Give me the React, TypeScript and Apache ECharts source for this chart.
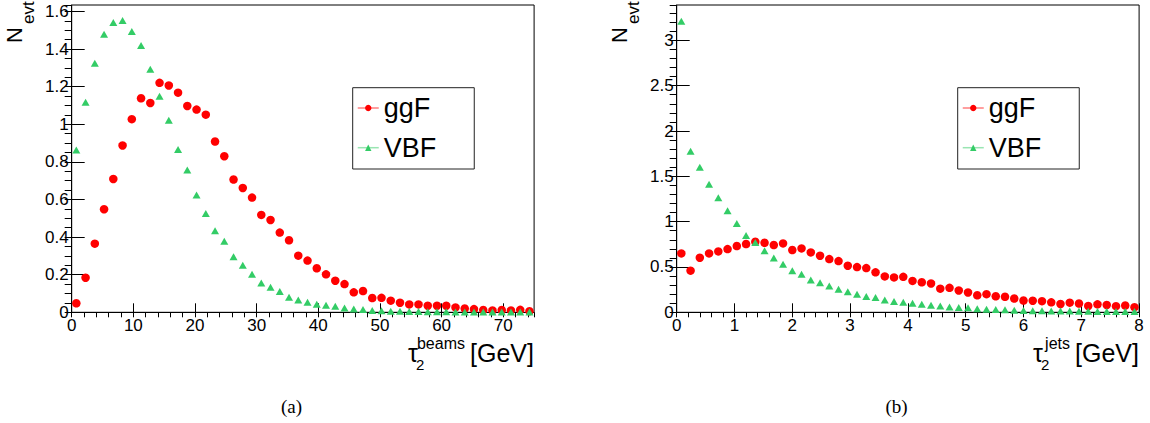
import React, { useEffect, useRef } from 'react';
import * as echarts from 'echarts';

// ---------------- data ----------------
const binWidthA = 1.5; // GeV, panel (a): 50 bins on [0, 75]
const binWidthB = 0.16; // GeV, panel (b): 50 bins on [0, 8]

const ggF_A = [
  0.048, 0.184, 0.365, 0.548, 0.709, 0.887, 1.027, 1.138, 1.113, 1.220,
  1.206, 1.168, 1.097, 1.078, 1.051, 0.908, 0.830, 0.706, 0.661, 0.610,
  0.518, 0.491, 0.424, 0.383, 0.301, 0.275, 0.234, 0.202, 0.168, 0.150,
  0.106, 0.113, 0.076, 0.077, 0.062, 0.051, 0.042, 0.042, 0.035, 0.035,
  0.035, 0.026, 0.020, 0.017, 0.012, 0.010, 0.012, 0.010, 0.013, 0.006,
];
const VBF_A = [
  0.863, 1.117, 1.324, 1.479, 1.541, 1.551, 1.493, 1.418, 1.293, 1.149,
  1.021, 0.865, 0.757, 0.624, 0.525, 0.434, 0.378, 0.296, 0.250, 0.202,
  0.156, 0.133, 0.110, 0.080, 0.066, 0.053, 0.043, 0.038, 0.032, 0.023,
  0.017, 0.015, 0.010, 0.008, 0.006, 0.005, 0.004, 0.004, 0.003, 0.003,
  0.003, 0.002, 0.002, 0.002, 0.002, 0.001, 0.001, 0.001, 0.001, 0.001,
];
const ggF_B = [
  0.650, 0.459, 0.602, 0.650, 0.672, 0.697, 0.731, 0.753, 0.778, 0.767,
  0.742, 0.760, 0.687, 0.705, 0.661, 0.624, 0.587, 0.565, 0.514, 0.499,
  0.488, 0.441, 0.396, 0.385, 0.391, 0.346, 0.331, 0.318, 0.261, 0.270,
  0.241, 0.219, 0.188, 0.200, 0.177, 0.171, 0.152, 0.130, 0.128, 0.123,
  0.110, 0.092, 0.106, 0.097, 0.070, 0.088, 0.081, 0.068, 0.075, 0.057,
];
const VBF_B = [
  3.210, 1.777, 1.601, 1.413, 1.263, 1.120, 0.980, 0.848, 0.771, 0.679,
  0.598, 0.529, 0.459, 0.419, 0.356, 0.327, 0.290, 0.253, 0.228, 0.198,
  0.173, 0.162, 0.136, 0.120, 0.112, 0.100, 0.088, 0.077, 0.070, 0.058,
  0.052, 0.050, 0.039, 0.034, 0.030, 0.029, 0.023, 0.020, 0.018, 0.017,
  0.015, 0.014, 0.013, 0.012, 0.011, 0.010, 0.009, 0.009, 0.008, 0.008,
];

const seriesNames = ['ggF', 'VBF'];
const xTitleUnit = '[GeV]';
const xSupA = 'beams';
const xSupB = 'jets';
const captions = ['(a)', '(b)'];

// ---------------- styling ----------------
const RED = '#ff0000';
const GREEN = '#33cc66';
const SANS = '"Liberation Sans", Arial, Helvetica, sans-serif';
const SERIF = '"Liberation Serif", "Times New Roman", serif';

const toPairs = (vals: number[], w: number) => vals.map((v, i) => [(i + 0.5) * w, v]);

function majorX(grid: number, max: number, interval: number, showMax: boolean) {
  return {
    type: 'value', gridIndex: grid, min: 0, max, interval,
    axisLine: { show: true, lineStyle: { color: '#000', width: 1 } },
    axisTick: { show: true, inside: true, length: 9, lineStyle: { color: '#000', width: 1 } },
    axisLabel: { show: true, color: '#000', fontSize: 17, fontFamily: SANS, margin: 5, showMaxLabel: showMax },
    splitLine: { show: false },
  };
}
function minorX(grid: number, max: number, interval: number) {
  return {
    type: 'value', gridIndex: grid, min: 0, max, interval,
    axisLine: { show: false },
    axisTick: { show: true, inside: true, length: 5, lineStyle: { color: '#000', width: 1 } },
    axisLabel: { show: false },
    splitLine: { show: false },
  };
}
function majorY(grid: number, max: number, interval: number) {
  return {
    type: 'value', gridIndex: grid, min: 0, max, interval,
    axisLine: { show: true, lineStyle: { color: '#000', width: 1 } },
    axisTick: { show: true, inside: true, length: 13, lineStyle: { color: '#000', width: 1 } },
    axisLabel: { show: true, color: '#000', fontSize: 17, fontFamily: SANS, margin: 3, showMaxLabel: false },
    splitLine: { show: false },
  };
}
function minorY(grid: number, max: number, interval: number) {
  return {
    type: 'value', gridIndex: grid, min: 0, max, interval,
    axisLine: { show: false },
    axisTick: { show: true, inside: true, length: 7, lineStyle: { color: '#000', width: 1 } },
    axisLabel: { show: false },
    splitLine: { show: false },
  };
}

function pointSeries(name: string, data: number[][], xi: number, yi: number, color: string, symbol: string, size: any) {
  return {
    name, type: 'line', xAxisIndex: xi, yAxisIndex: yi, data,
    symbol, symbolSize: size, showSymbol: true, showAllSymbol: true,
    itemStyle: { color },
    lineStyle: { color, opacity: 0, width: 0 },
    emphasis: { disabled: true },
    silent: true,
  };
}

function legendAt(left: number) {
  return {
    show: true,
    data: seriesNames,
    orient: 'vertical',
    left, top: 87.7,
    itemWidth: 21, itemHeight: 8, itemGap: 9.7,
    padding: [5.3, 38, 6.3, 4.3],
    borderColor: '#222', borderWidth: 1, backgroundColor: '#fff',
    textStyle: { color: '#000', fontSize: 27, fontFamily: SANS, lineHeight: 30 },
    lineStyle: { width: 1.5, opacity: 0.5 },
    selectedMode: false,
  };
}

function txt(x: number, y: number, text: string, fontSize: number, align: string, vAlign: string, font = SANS, rotation = 0) {
  return {
    type: 'text', x, y, rotation, silent: true,
    style: {
      text, fill: '#000', fontSize, fontFamily: font,
      align, verticalAlign: vAlign, textAlign: align, textVerticalAlign: vAlign,
    },
  };
}

// supWidth: approximate width of the superscript word, used only to place tau before it
function panelTexts(off: number, sup: string, supWidth: number, caption: string) {
  const right = 534 + off;
  const supEnd = right - 69;
  const supStart = supEnd - supWidth;
  return [
    // y-axis title N_evt (rotated)
    txt(25 + off, 43, 'N', 22, 'left', 'bottom', SANS, Math.PI / 2),
    txt(37 + off, 24, 'evt', 17, 'left', 'bottom', SANS, Math.PI / 2),
    // x-axis title tau_2^sup [GeV]
    txt(supStart - 1, 365, 'τ', 25, 'right', 'bottom'),
    txt(supStart - 3, 372, '2', 15, 'left', 'bottom'),
    txt(supEnd, 351, sup, 16, 'right', 'bottom'),
    txt(right, 365, xTitleUnit, 25, 'right', 'bottom'),
    // caption
    txt(291.5 + off, 406, caption, 19, 'center', 'middle', SERIF),
  ];
}

export default function App() {
  const ref = useRef<HTMLDivElement>(null);
  useEffect(() => {
    document.body.style.margin = '0';
    if (!ref.current) return;
    const chart = echarts.init(ref.current, undefined, { renderer: 'svg' });
    const OFF = 605;
    chart.setOption({
      animation: false,
      backgroundColor: '#fff',
      grid: [
        { left: 71.7, top: 5, width: 462.4, height: 307.3, show: true, borderColor: '#000', borderWidth: 1, backgroundColor: 'transparent' },
        { left: 71.7 + OFF, top: 5, width: 462.4, height: 307.3, show: true, borderColor: '#000', borderWidth: 1, backgroundColor: 'transparent' },
      ],
      xAxis: [
        majorX(0, 75, 10, false), minorX(0, 75, 2),
        majorX(1, 8, 1, true), minorX(1, 8, 0.2),
      ],
      yAxis: [
        majorY(0, 1.634, 0.2), minorY(0, 1.634, 0.05),
        majorY(1, 3.39, 0.5), minorY(1, 3.39, 0.1),
      ],
      legend: [legendAt(352.7), legendAt(352.7 + OFF)],
      series: [
        pointSeries('ggF', toPairs(ggF_A, binWidthA), 0, 0, RED, 'circle', 8.5),
        pointSeries('VBF', toPairs(VBF_A, binWidthA), 0, 0, GREEN, 'triangle', [8, 7]),
        pointSeries('ggF', toPairs(ggF_B, binWidthB), 2, 2, RED, 'circle', 8.5),
        pointSeries('VBF', toPairs(VBF_B, binWidthB), 2, 2, GREEN, 'triangle', [8, 7]),
      ],
      graphic: [
        ...panelTexts(0, xSupA, 46, captions[0]),
        ...panelTexts(OFF, xSupB, 26, captions[1]),
      ],
    });
    return () => chart.dispose();
  }, []);
  return <div ref={ref} style={{ width: 1150, height: 423 }} />;
}
